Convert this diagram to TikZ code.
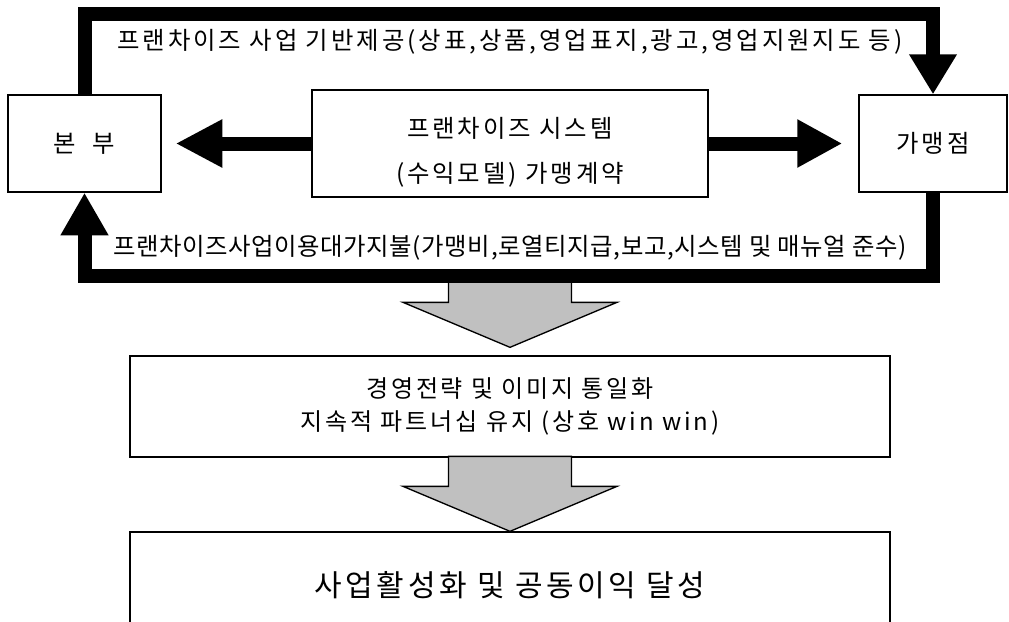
\documentclass[tikz,border=0pt]{standalone}
\usepackage{fontspec}
\setmainfont{Noto Sans CJK KR}[LetterSpace=12]
\newfontfamily\tightkr{Noto Sans CJK KR}[LetterSpace=2.5]
\usetikzlibrary{arrows.meta,calc}
\tikzset{
  box/.style={draw=black, line width=1pt, fill=white, inner sep=0pt, align=center,
              font=\fontsize{18.3pt}{22pt}\selectfont},
  lbl/.style={inner sep=0pt, align=center, font=\fontsize{18.3pt}{22pt}\selectfont},
  thickline/.style={line width=10.5pt, line join=miter, draw=black},
  garrow/.style={draw=black, line width=1pt, fill={rgb,255:red,192;green,192;blue,192}, line join=miter},
}
\begin{document}
\begin{tikzpicture}[x=0.75pt,y=-0.75pt]
\useasboundingbox (0,0) rectangle (1009,621);
\clip (0,0) rectangle (1009,621);

% boxes
\node[box, minimum width=114.75pt, minimum height=72.75pt] (bb) at (84.5,143.5) {본\hspace{0.35em} 부};
\node[box, minimum width=111pt, minimum height=72.75pt] (ga) at (933,143.5) {가맹점};
\node[box, minimum width=297pt, minimum height=80.25pt] (sys) at (510,143.5) {};
\node[lbl, font=\fontsize{18.3pt}{33.75pt}\selectfont] (systxt) at ($(sys.center)+(0,9)$) {프랜차이즈 시스템\\(수익모델) 가맹계약};
\node[box, minimum width=570pt, minimum height=75.75pt, font=\fontsize{18pt}{24.75pt}\selectfont] (b2) at (510,406.5) {경영전략 및 이미지 통일화\\지속적 파트너십 유지 (상호 win win)};
\node[box, minimum width=570pt, minimum height=79.5pt, font=\fontsize{22.5pt}{27pt}\selectfont] (b3) at (510,585) {사업활성화 및 공동이익 달성};

% gray block arrows
\coordinate (t1) at ($(b2.north)+(0,-8)$);
\draw[garrow] ($(t1)+(-61.5,-70)$) -- ($(t1)+(-61.5,-45)$) -- ($(t1)+(-107,-45)$) -- (t1) -- ($(t1)+(107,-45)$) -- ($(t1)+(61.5,-45)$) -- ($(t1)+(61.5,-70)$) -- cycle;
\coordinate (t2) at (b3.north);
\draw[garrow] ($(t2)+(-61.5,-75)$) -- ($(t2)+(-61.5,-45)$) -- ($(t2)+(-107,-45)$) -- (t2) -- ($(t2)+(107,-45)$) -- ($(t2)+(61.5,-45)$) -- ($(t2)+(61.5,-75)$) -- cycle;

% thick connectors
\draw[thickline, -{Triangle[width=33.75pt,length=30pt]}] (bb.north) -- ++(0,-80) -| (ga.north);
\draw[thickline, -{Triangle[width=33.75pt,length=32pt]}] (ga.south) -- ++(0,83) -| (bb.south);
\draw[thickline, -{Triangle[width=33.75pt,length=35pt]}] (sys.west) -- ($(bb.east)+(14,0)$);
\draw[thickline, -{Triangle[width=33.75pt,length=33.75pt]}] (sys.east) -- ($(ga.west)+(-16,0)$);

% connector labels
\node[lbl] (toplbl) at (510,42) {프랜차이즈 사업 기반제공(상표,상품,영업표지,광고,영업지원지도 등)};
\node[lbl, font=\tightkr\fontsize{18.3pt}{22pt}\selectfont] (botlbl) at (510,248) {프랜차이즈사업이용대가지불(가맹비,로열티지급,보고,시스템 및 매뉴얼 준수)};
\end{tikzpicture}
\end{document}
